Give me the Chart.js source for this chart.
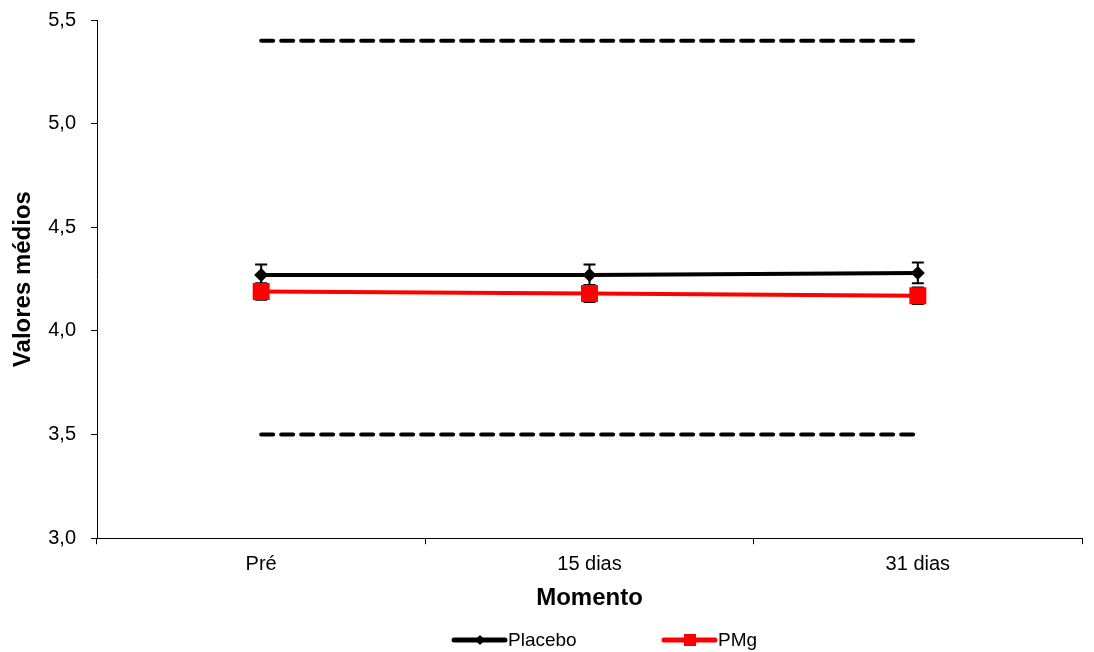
<!DOCTYPE html>
<html>
<head>
<meta charset="utf-8">
<script src="https://cdn.jsdelivr.net/npm/chart.js@4"></script>
<style>
  html, body { margin: 0; padding: 0; background: #fff; }
  #wrap { width: 1094px; height: 652px; }
</style>
</head>
<body>
<div id="wrap"><canvas id="myChart" width="1094" height="652"></canvas></div>
<script>
// dados
const momentos = ['Pré', '15 dias', '31 dias'];
const placebo = [4.27, 4.27, 4.28];
const placeboErro = [0.05, 0.05, 0.05];
const pmg = [4.19, 4.18, 4.17];
const pmgErro = [0.04, 0.04, 0.04];
const limiteSuperior = [5.4, 5.4, 5.4];
const limiteInferior = [3.5, 3.5, 3.5];

const fonte = 'Arial, "Liberation Sans", sans-serif';

// barras de erro desenhadas antes das linhas (ficam por baixo dos marcadores)
const errorBars = {
  id: 'errorBars',
  beforeDatasetsDraw(chart) {
    const ctx = chart.ctx;
    const x = chart.scales.x, y = chart.scales.y;
    const series = [[placebo, placeboErro], [pmg, pmgErro]];
    ctx.save();
    ctx.strokeStyle = '#000';
    ctx.lineWidth = 2;
    series.forEach(([vals, errs]) => {
      vals.forEach((v, i) => {
        const px = x.getPixelForValue(i);
        const top = y.getPixelForValue(v + errs[i]);
        const bot = y.getPixelForValue(v - errs[i]);
        ctx.beginPath();
        ctx.moveTo(px, top); ctx.lineTo(px, bot);
        ctx.moveTo(px - 6, top); ctx.lineTo(px + 6, top);
        ctx.moveTo(px - 6, bot); ctx.lineTo(px + 6, bot);
        ctx.stroke();
      });
    });
    ctx.restore();
  }
};

// legenda feita à mão (linha com marcador no meio)
const legenda = {
  id: 'legenda',
  afterDraw(chart) {
    const ctx = chart.ctx;
    const itens = [
      { txt: 'Placebo', cor: '#000', x: 452, marca: 'diamante' },
      { txt: 'PMg', cor: '#ff0000', x: 662, marca: 'quadrado' }
    ];
    const yy = 640;
    ctx.save();
    itens.forEach(it => {
      ctx.strokeStyle = it.cor;
      ctx.fillStyle = it.cor;
      ctx.lineWidth = 5;
      ctx.lineCap = 'round';
      ctx.beginPath();
      ctx.moveTo(it.x + 2, yy); ctx.lineTo(it.x + 53, yy);
      ctx.stroke();
      const cx = it.x + 28;
      if (it.marca == 'diamante') {
        ctx.beginPath();
        ctx.moveTo(cx - 5, yy); ctx.lineTo(cx, yy - 5);
        ctx.lineTo(cx + 5, yy); ctx.lineTo(cx, yy + 5);
        ctx.closePath(); ctx.fill();
      } else {
        ctx.fillRect(cx - 6, yy - 6, 12, 12);
      }
      ctx.fillStyle = '#000';
      ctx.font = '19px ' + fonte;
      ctx.textBaseline = 'middle';
      ctx.fillText(it.txt, it.x + 56, yy + 1);
    });
    ctx.restore();
  }
};

const data = {
  labels: momentos,
  datasets: [
    {
      label: 'Placebo',
      data: placebo,
      borderColor: '#000',
      backgroundColor: '#000',
      borderWidth: 4,
      pointStyle: 'rectRot',
      pointRadius: 7,
      pointBorderWidth: 0,
      order: 1
    },
    {
      label: 'PMg',
      data: pmg,
      borderColor: '#ff0000',
      backgroundColor: '#ff0000',
      borderWidth: 4,
      pointStyle: 'rect',
      pointRadius: 12,
      pointBorderWidth: 0,
      order: 0
    },
    {
      label: 'sup',
      data: limiteSuperior,
      borderColor: '#000',
      borderWidth: 4,
      borderDash: [12, 8],
      borderCapStyle: 'round',
      pointRadius: 0,
      order: 2
    },
    {
      label: 'inf',
      data: limiteInferior,
      borderColor: '#000',
      borderWidth: 4,
      borderDash: [12, 8],
      borderCapStyle: 'round',
      pointRadius: 0,
      order: 2
    }
  ]
};

const config = {
  type: 'line',
  data: data,
  plugins: [errorBars, legenda],
  options: {
    responsive: false,
    animation: false,
    layout: { padding: { top: 20, right: 1, bottom: 39, left: 9 } },
    plugins: {
      legend: { display: false },
      tooltip: { enabled: false }
    },
    scales: {
      x: {
        offset: true,
        grid: {
          offset: true,
          drawOnChartArea: false,
          color: '#000',
          tickLength: 6,
          tickColor: '#000'
        },
        border: { color: '#000', width: 1 },
        ticks: { color: '#000', font: { size: 20, family: fonte }, padding: 8 },
        title: {
          display: true,
          text: 'Momento',
          color: '#000',
          font: { size: 24, weight: 'bold', family: fonte },
          padding: { top: 0, bottom: 0 }
        }
      },
      y: {
        min: 3,
        max: 5.5,
        afterFit(scale) {
          scale.width = 88;
          scale.paddingTop = 0;
        },
        grid: {
          drawOnChartArea: false,
          color: '#000',
          tickLength: 6,
          tickColor: '#000'
        },
        border: { color: '#000', width: 1 },
        ticks: {
          stepSize: 0.5,
          color: '#000',
          font: { size: 20, family: fonte },
          padding: 15,
          callback: v => v.toFixed(1).replace('.', ',')
        },
        title: {
          display: true,
          text: 'Valores médios',
          color: '#000',
          font: { size: 24, weight: 'bold', family: fonte },
          padding: { top: 0, bottom: 0 }
        }
      }
    }
  }
};

const myChart = new Chart(document.getElementById('myChart'), config);
</script>
</body>
</html>
